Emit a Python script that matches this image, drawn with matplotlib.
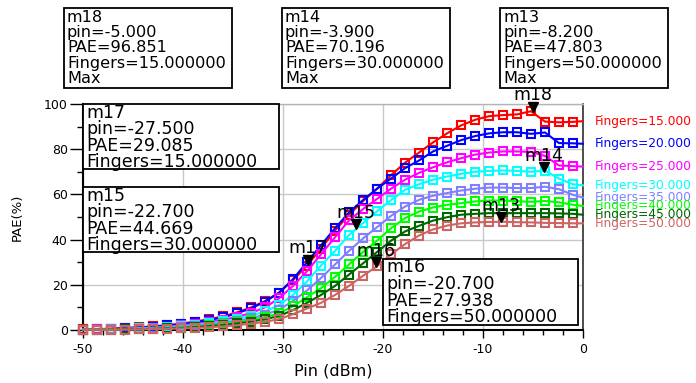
import numpy as np
import matplotlib
matplotlib.use('Agg')
import matplotlib.pyplot as plt
from matplotlib.patches import Rectangle
from matplotlib.transforms import offset_copy

plt.rcParams['font.family'] = 'DejaVu Sans'
plt.rcParams['axes.unicode_minus'] = False

# swept input power (dBm); symbols on every point except the last one (0 dBm)
pin = [-50.0, -48.6, -47.2, -45.8, -44.4, -43.0, -41.6, -40.2, -38.8, -37.4,
       -36.0, -34.6, -33.2, -31.8, -30.4, -29.0, -27.6, -26.2, -24.8, -23.4,
       -22.0, -20.6, -19.2, -17.8, -16.4, -15.0, -13.6, -12.2, -10.8, -9.4,
       -8.0, -6.6, -5.2, -3.8, -2.4, -1.0, 0.0]

fingers = [15, 20, 25, 30, 35, 40, 45, 50]

pae_f15 = [0.3, 0.4, 0.6, 0.9, 1.2, 1.6, 2.1, 2.8, 3.7, 4.8, 6.0, 7.8, 10.0, 12.8, 16.5,
           22.0, 28.5, 36.0, 44.0, 51.0, 57.0, 62.5, 68.5, 74.0, 78.5, 83.0, 87.0, 90.5,
           93.0, 94.6, 95.1, 95.4, 96.8, 92.2, 91.9, 92.1, 92.4]
pae_f20 = [0.2, 0.3, 0.5, 0.8, 1.1, 1.5, 2.0, 2.6, 3.4, 4.4, 5.6, 7.4, 9.6, 12.5, 16.5,
           22.5, 30.0, 37.5, 45.0, 52.0, 57.5, 62.5, 67.0, 71.6, 75.0, 79.0, 81.5, 84.0,
           85.8, 87.0, 87.5, 87.5, 86.8, 87.4, 82.7, 82.6, 82.4]
pae_f25 = [0.2, 0.3, 0.4, 0.6, 0.8, 1.1, 1.5, 2.0, 2.7, 3.5, 4.5, 5.8, 7.5, 10.0, 14.0,
           19.5, 26.0, 33.5, 41.0, 48.5, 53.5, 58.0, 62.5, 66.5, 69.5, 72.0, 74.2, 76.0,
           77.6, 78.5, 79.0, 79.0, 78.8, 77.0, 72.8, 72.5, 72.3]
pae_f30 = [0.1, 0.2, 0.3, 0.5, 0.7, 0.9, 1.2, 1.6, 2.2, 2.9, 3.8, 4.9, 6.3, 8.2, 11.0,
           15.5, 21.5, 28.5, 35.0, 42.0, 47.3, 52.5, 57.5, 62.0, 64.5, 66.5, 67.9, 69.1,
           70.0, 70.4, 70.6, 70.4, 70.0, 70.5, 67.0, 64.5, 64.0]
pae_f35 = [0.1, 0.2, 0.3, 0.4, 0.5, 0.7, 1.0, 1.3, 1.8, 2.4, 3.1, 4.0, 5.2, 6.8, 9.0,
           12.8, 17.5, 23.0, 29.0, 35.0, 40.5, 45.5, 50.5, 54.6, 57.6, 59.4, 60.6, 61.7,
           62.5, 63.0, 63.0, 62.8, 62.8, 63.4, 62.3, 59.8, 58.6]
pae_f40 = [0.1, 0.1, 0.2, 0.3, 0.4, 0.6, 0.8, 1.1, 1.5, 2.0, 2.6, 3.4, 4.4, 5.7, 7.4,
           10.5, 14.5, 18.5, 23.5, 29.0, 34.5, 39.5, 45.0, 49.5, 52.4, 54.2, 55.4, 56.1,
           56.9, 57.3, 57.3, 57.0, 56.7, 57.1, 56.5, 55.4, 54.9]
pae_f45 = [0.1, 0.1, 0.2, 0.3, 0.4, 0.5, 0.7, 0.9, 1.3, 1.7, 2.2, 2.9, 3.7, 4.8, 6.2,
           8.8, 12.0, 15.5, 19.5, 24.5, 29.5, 34.5, 39.5, 43.6, 46.1, 48.4, 49.9, 51.0,
           51.4, 51.7, 51.7, 51.7, 51.7, 51.7, 51.6, 51.4, 51.0]
pae_f50 = [0.1, 0.1, 0.1, 0.2, 0.3, 0.4, 0.5, 0.7, 0.9, 1.2, 1.6, 2.1, 2.8, 3.6, 4.8,
           7.0, 9.5, 12.0, 15.5, 19.5, 24.0, 28.2, 33.5, 38.0, 41.8, 44.5, 46.2, 47.2,
           47.6, 47.8, 47.9, 47.7, 47.6, 47.4, 47.3, 47.2, 47.2]

series = [pae_f15, pae_f20, pae_f25, pae_f30, pae_f35, pae_f40, pae_f45, pae_f50]
colors = ['#ff0000', '#0000ff', '#ff00ff', '#00ffff', '#8080ff', '#00ff00', '#006400', '#cd6464']

# ADS markers
mk_names = ['m18', 'm14', 'm13', 'm17', 'm15', 'm16']
mk_pin = [-5.0, -3.9, -8.2, -27.5, -22.7, -20.7]
mk_pae = [96.851, 70.196, 47.803, 29.085, 44.669, 27.938]
mk_fingers = [15, 30, 50, 15, 30, 50]
mk_max = [True, True, True, False, False, False]
# readout boxes in pixels: left, top, right, bottom
mk_box = [(64, 8, 232, 88), (282, 8, 450, 88), (500, 8, 668, 88),
          (83, 104, 279, 169), (83, 187, 279, 252), (383, 259, 578, 325)]

W, H = 696, 383
fig = plt.figure(figsize=(W / 100, H / 100), dpi=100)
ax = fig.add_axes([83 / W, 1 - 330 / H, 500 / W, 226 / H])

for vals, c, f in zip(series, colors, fingers):
    ax.plot(pin, vals, color=c, lw=1.5, marker='s', ms=5.8, mfc='none', mew=1.5,
            markevery=slice(0, len(pin) - 1), clip_on=False, zorder=3)
    ax.annotate(f'Fingers={f:.3f}', xy=(0, vals[-1]), xytext=(8.5, 0),
                textcoords='offset points', va='center', ha='left', color=c,
                fontsize=8.8, annotation_clip=False)

tri = offset_copy(ax.transData, fig=fig, x=0, y=3.3, units='points')
for name, x, y in zip(mk_names, mk_pin, mk_pae):
    ax.plot([x], [y], marker='v', color='black', ms=6.6, transform=tri,
            clip_on=False, zorder=6)
    ax.annotate(name, xy=(x, y), xytext=(0, 7.8), textcoords='offset points',
                ha='center', va='baseline', fontsize=12.5, zorder=7,
                annotation_clip=False)

for name, x, y, f, mx, box in zip(mk_names, mk_pin, mk_pae, mk_fingers, mk_max, mk_box):
    l, t, r, b = box
    fig.patches.append(Rectangle((l / W, 1 - b / H), (r - l) / W, (b - t) / H,
                                 transform=fig.transFigure, fc='white', ec='black',
                                 lw=1.3, zorder=8))
    txt = f'{name}\npin={x:.3f}\nPAE={y:.3f}\nFingers={f:.6f}'
    if mx:
        txt += '\nMax'
        fs, ls, dy = 11.6, 1.04, 1.5
    else:
        fs, ls, dy = 12.5, 0.9, -0.5
    fig.text((l + 3) / W, 1 - (t + dy) / H, txt, ha='left', va='top',
             fontsize=fs, linespacing=ls, zorder=9)

ax.set_xlim(-50, 0)
ax.set_ylim(0, 100)
ax.set_xticks(range(-50, 1, 10))
ax.set_xticks(range(-50, 1, 2), minor=True)
ax.set_yticks(range(0, 101, 20))
ax.set_yticks(range(0, 101, 10), minor=True)
ax.tick_params(axis='x', which='major', direction='out', length=6, width=1, labelsize=9, pad=3.5)
ax.tick_params(axis='x', which='minor', direction='out', length=3.7, width=1)
ax.tick_params(axis='y', which='major', direction='out', length=9.5, width=1, labelsize=9, pad=1.5)
ax.tick_params(axis='y', which='minor', direction='out', length=4.3, width=1)
ax.grid(True, which='major', color='#c8c8c8', lw=1, zorder=0)
ax.set_axisbelow(True)

for s in ['left', 'bottom']:
    ax.spines[s].set_linewidth(1.5)
    ax.spines[s].set_color('black')
ax.spines['right'].set_color('#303030')
ax.spines['right'].set_linewidth(1.2)
ax.spines['top'].set_color('#b4b4b4')
ax.spines['top'].set_linewidth(1)

ax.set_xlabel('Pin (dBm)', fontsize=11.5)
ax.set_ylabel('PAE(%)', fontsize=9.5)
ax.xaxis.set_label_coords(0.5, -(363 - 330) / 226)
ax.yaxis.set_label_coords((24 - 83) / 500, 0.5)

fig.savefig('out.png', dpi=100)
